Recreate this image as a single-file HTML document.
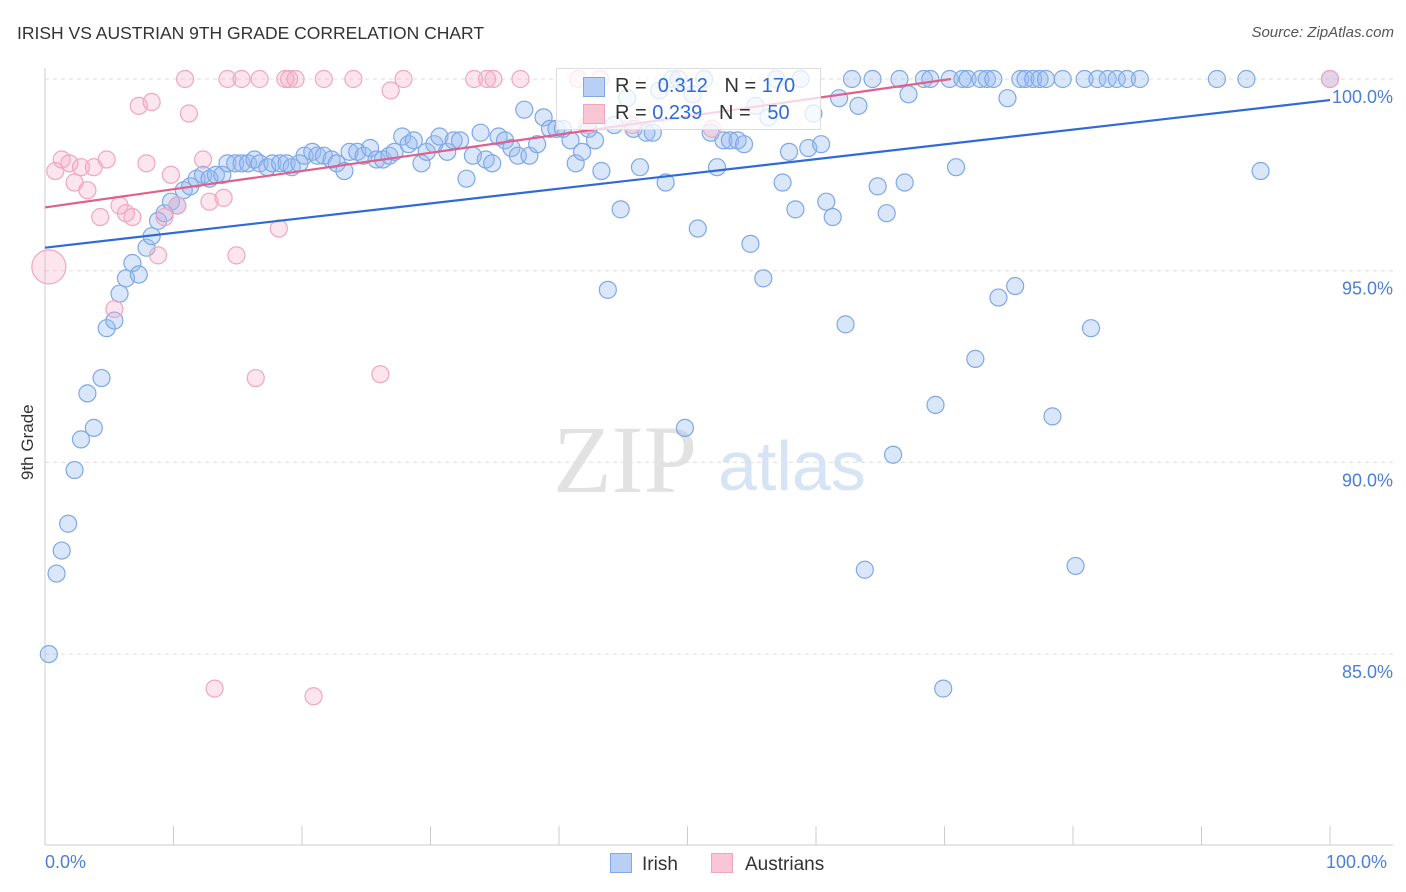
<!DOCTYPE html>
<html><head><meta charset="utf-8"><style>
body{margin:0;background:#fff;font-family:"Liberation Sans",sans-serif;}
#wrap{position:relative;width:1406px;height:892px;overflow:hidden;}
.t{position:absolute;white-space:nowrap;}
</style></head><body>
<div id="wrap">
<div class="t" style="left:17px;top:23px;font-size:17.5px;color:#333;">IRISH VS AUSTRIAN 9TH GRADE CORRELATION CHART</div>
<div class="t" style="right:12px;top:24px;font-size:15px;color:#555;font-style:italic;">Source: ZipAtlas.com</div>
<div class="t" style="left:3px;top:445px;font-size:17px;color:#333;transform:rotate(-90deg);transform-origin:center;width:50px;text-align:center;">9th Grade</div>
<svg id="svg" width="1406" height="892" style="position:absolute;left:0;top:0"></svg>
</div>
<script>
const irishX=[0.3,0.9,1.3,1.8,2.3,2.8,3.3,3.8,4.4,4.8,5.4,5.8,6.3,6.8,7.3,7.9,8.3,8.8,9.3,9.8,10.3,10.8,11.3,11.8,12.3,12.8,13.3,13.8,14.2,14.8,15.3,15.8,16.3,16.7,17.3,17.7,18.3,18.8,19.2,19.8,20.2,20.8,21.2,21.7,22.3,22.7,23.3,23.7,24.3,24.8,25.3,25.8,26.3,26.8,27.2,27.8,28.3,28.7,29.3,29.7,30.3,30.7,31.3,31.8,32.3,32.8,33.3,33.9,34.3,34.8,35.3,35.8,36.3,36.8,37.3,37.7,38.3,38.8,39.3,39.8,40.3,40.9,41.3,41.8,42.3,42.8,43.3,43.8,44.3,44.8,45.3,45.8,46.3,46.8,47.3,47.8,48.3,48.8,49.3,49.8,50.4,50.8,51.3,51.8,52.3,52.8,53.3,53.9,54.4,54.9,55.3,55.9,56.3,56.9,57.4,57.9,58.4,58.8,59.4,59.8,60.4,60.8,61.3,61.8,62.3,62.8,63.3,63.8,64.4,64.8,65.5,66.0,66.5,66.9,67.2,68.4,68.9,69.3,69.9,70.4,70.9,71.4,71.8,72.4,72.8,73.3,73.8,74.2,74.9,75.5,75.9,76.3,76.9,77.4,77.9,78.4,79.2,80.2,80.9,81.4,81.9,82.7,83.4,84.2,85.2,91.2,93.5,94.6,100];
const irishY=[85.0,87.1,87.7,88.4,89.8,90.6,91.8,90.9,92.2,93.5,93.7,94.4,94.8,95.2,94.9,95.6,95.9,96.3,96.5,96.8,96.7,97.1,97.2,97.4,97.5,97.4,97.5,97.5,97.8,97.8,97.8,97.8,97.9,97.8,97.7,97.8,97.8,97.8,97.7,97.8,98.0,98.1,98.0,98.0,97.9,97.8,97.6,98.1,98.1,98.0,98.2,97.9,97.9,98.0,98.1,98.5,98.3,98.4,97.8,98.1,98.3,98.5,98.1,98.4,98.4,97.4,98.0,98.6,97.9,97.8,98.5,98.4,98.2,98.0,99.2,98.0,98.3,99.0,98.7,98.7,98.7,98.4,97.8,98.1,98.7,98.4,97.6,94.5,98.8,96.6,99.5,98.7,97.7,98.6,98.6,99.7,97.3,100,100,90.9,99.6,96.1,100,98.6,97.7,98.4,98.4,98.4,98.3,95.7,99.3,94.8,99.0,100,97.3,98.1,96.6,100,98.2,99.1,98.3,96.8,96.4,99.5,93.6,100,99.3,87.2,100,97.2,96.5,90.2,100,97.3,99.6,100,100,91.5,84.1,100,97.7,100,100,92.7,100,100,100,94.3,99.5,94.6,100,100,100,100,100,91.2,100,87.3,100,93.5,100,100,100,100,100,100,100,97.6,100];
const austX=[0.8,1.3,1.9,2.3,2.8,3.3,3.8,4.3,4.8,5.4,5.8,6.3,6.8,7.3,7.9,8.3,8.8,9.3,9.8,10.3,10.9,11.2,12.3,12.8,13.2,13.9,14.2,14.9,15.3,16.4,16.7,18.2,18.7,19.0,19.5,20.9,21.7,24.0,26.1,26.9,27.9,33.4,34.4,34.9,37.0,41.5,42.2,43.2,45.7,51.9,100];
const austY=[97.6,97.9,97.8,97.3,97.7,97.1,97.7,96.4,97.9,94.0,96.7,96.5,96.4,99.3,97.8,99.4,95.4,96.4,97.5,96.7,100,99.1,97.9,96.8,84.1,96.9,100,95.4,100,92.2,100,96.1,100,100,100,83.9,100,100,92.3,99.7,100,100,100,100,100,100,98.8,100,98.8,98.7,100];
const bigX=[0.3], bigY=[95.1];
const yTicks=[100,95,90,85];
const irishTrend=[[0,95.6],[100,99.45]];
const austTrend=[[0,96.65],[70.5,100]];

const X=v=>45+v*12.85, Y=v=>79+(100-v)*38.34;
const svg=document.getElementById('svg');
const NS='http://www.w3.org/2000/svg';
function mk(tag,attrs){const e=document.createElementNS(NS,tag);for(const k in attrs)e.setAttribute(k,attrs[k]);svg.appendChild(e);return e;}
yTicks.forEach(t=>{
  const l=mk('line',{x1:45,x2:1393,y1:Y(t),y2:Y(t),stroke:'#ddd','stroke-dasharray':'4,4'});
  
  
  const tx=mk('text',{x:1393,y:Y(t)+24,'text-anchor':'end','font-size':18,fill:'#4a7fd6','font-family':'Liberation Sans, sans-serif'});
  tx.textContent=t.toFixed(1)+'%';
  
  
});
let ax=mk('line',{x1:45,x2:45,y1:68,y2:845,stroke:'#ccc'});

let bx=mk('line',{x1:45,x2:1393,y1:845,y2:845,stroke:'#ccc'});

for(let i=0;i<=10;i++){const tk=mk('line',{x1:X(i*10),x2:X(i*10),y1:826,y2:845,stroke:'#ccc'});
}
let w1=mk('text',{x:553,y:492,'font-size':96,fill:'#e2e2e2','font-family':'Liberation Serif, serif'});w1.textContent='ZIP';

let w2=mk('text',{x:718,y:490,'font-size':70,fill:'#d6e4f6','font-family':'Liberation Sans, sans-serif'});w2.textContent='atlas';

irishX.forEach((x,i)=>{const c=mk('circle',{cx:X(x),cy:Y(irishY[i]),r:8.5,fill:'rgba(150,185,240,0.35)',stroke:'#7ea8e8','stroke-width':1.2});
});
austX.forEach((x,i)=>{const c=mk('circle',{cx:X(x),cy:Y(austY[i]),r:8.5,fill:'rgba(245,170,195,0.3)',stroke:'#f0a6bf','stroke-width':1.2});
});
bigX.forEach((x,i)=>{const c=mk('circle',{cx:X(x),cy:Y(bigY[i]),r:17,fill:'rgba(245,170,195,0.3)',stroke:'#f0a6bf','stroke-width':1.2});
});
let tl=mk('line',{x1:X(irishTrend[0][0]),y1:Y(irishTrend[0][1]),x2:X(irishTrend[1][0]),y2:Y(irishTrend[1][1]),stroke:'#2f6bd6','stroke-width':2.2});

let tl2=mk('line',{x1:X(austTrend[0][0]),y1:Y(austTrend[0][1]),x2:X(austTrend[1][0]),y2:Y(austTrend[1][1]),stroke:'#e0608a','stroke-width':2.2});

</script>
<div class="t" style="left:556px;top:68px;width:263px;height:60px;border:1px solid #ddd;background:rgba(255,255,255,0.75);font-size:20px;color:#333;">
 <div style="position:absolute;left:26px;top:8px;width:20px;height:18px;background:#b9d0f5;border:1px solid #7ea8e8"></div>
 <div style="position:absolute;left:58px;top:6px">R = &nbsp;<span style="color:#2f6bd6">0.312</span>&nbsp;&nbsp; N = <span style="color:#2f6bd6">170</span></div>
 <div style="position:absolute;left:26px;top:35px;width:20px;height:18px;background:#f8c6d5;border:1px solid #f0a6bf"></div>
 <div style="position:absolute;left:58px;top:33px">R = <span style="color:#2f6bd6">0.239</span>&nbsp;&nbsp; N = &nbsp;&nbsp;<span style="color:#2f6bd6">50</span></div>
</div>
<div class="t" style="left:45px;top:852px;font-size:18px;color:#4a7fd6">0.0%</div>
<div class="t" style="left:1326px;top:852px;font-size:18px;color:#4a7fd6">100.0%</div>
<div class="t" style="left:610px;top:853px;font-size:19px;color:#333"><span style="display:inline-block;width:20px;height:18px;background:#b9d0f5;border:1px solid #7ea8e8;vertical-align:-3px;margin-right:10px"></span>Irish</div>
<div class="t" style="left:711px;top:853px;font-size:19px;color:#333"><span style="display:inline-block;width:20px;height:18px;background:#f8c6d5;border:1px solid #f0a6bf;vertical-align:-3px;margin-right:12px"></span>Austrians</div>
</body></html>
